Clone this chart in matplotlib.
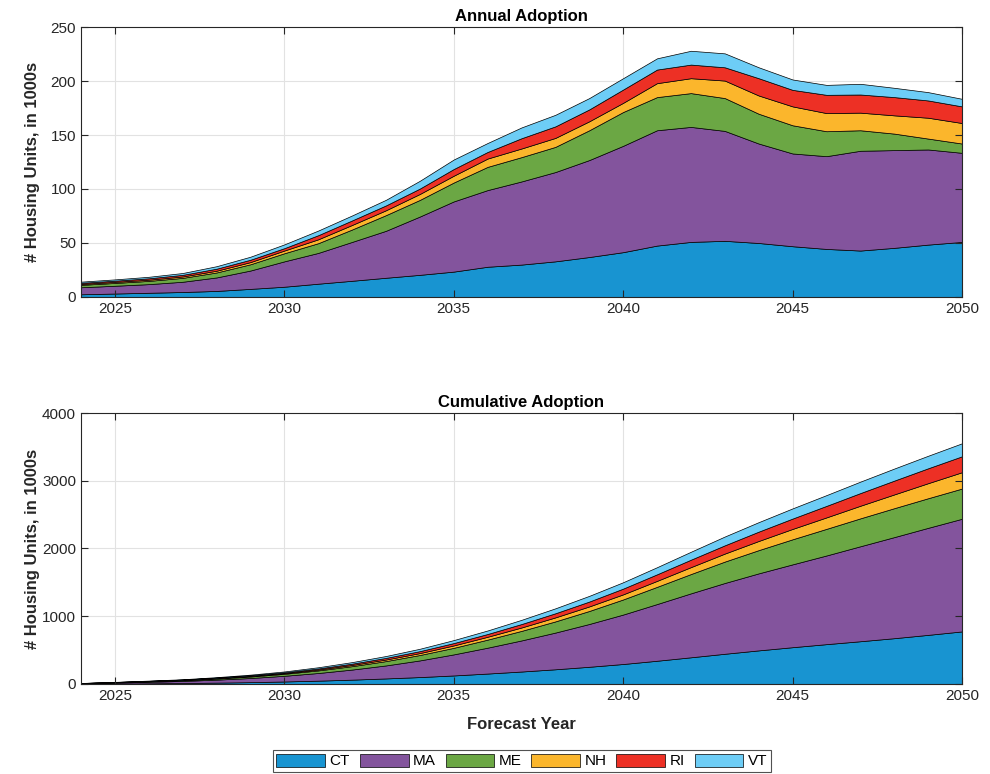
import matplotlib
matplotlib.use("Agg")
import matplotlib.pyplot as plt

plt.rcParams['font.family'] = ['Liberation Sans', 'DejaVu Sans']

years = list(range(2024, 2051))
states = ["CT", "MA", "ME", "NH", "RI", "VT"]
colors = ["#1894d1", "#83549d", "#6ba744", "#fbb62c", "#ed3025", "#6dcdf6"]

# Annual adoption, thousands of housing units
annual_ct = [2.5, 3.2, 3.9, 4.6, 5.6, 7.5, 9.5, 12.3, 15.0, 17.8, 20.5, 23.5, 28.0, 30.0,
             33.0, 37.0, 41.5, 47.6, 51.0, 52.0, 50.0, 47.0, 44.5, 43.0, 45.5, 48.5, 51.0]
annual_ma = [6.5, 7.2, 8.0, 9.5, 12.5, 17.0, 23.5, 28.5, 36.0, 43.5, 54.0, 65.0, 71.0, 77.0,
             82.7, 89.8, 98.5, 106.8, 106.5, 101.8, 92.1, 85.9, 85.9, 92.4, 90.5, 88.1, 82.5]
annual_me = [2.2, 2.6, 3.0, 3.6, 4.6, 5.8, 7.5, 9.0, 11.5, 14.5, 15.4, 17.5, 21.5, 22.5,
             23.3, 27.6, 31.3, 30.7, 31.3, 30.4, 27.6, 26.1, 23.1, 19.0, 15.3, 10.1, 8.6]
annual_nh = [0.9, 1.0, 1.1, 1.3, 1.6, 2.0, 2.5, 3.6, 4.2, 4.5, 5.5, 6.3, 7.7, 8.0,
             8.3, 8.3, 8.5, 12.9, 13.8, 16.2, 16.9, 17.5, 16.8, 16.3, 16.9, 19.3, 19.0]
annual_ri = [1.0, 1.1, 1.3, 1.5, 1.9, 2.2, 2.2, 3.8, 4.2, 4.5, 5.0, 6.2, 6.1, 9.5,
             10.7, 11.0, 12.3, 12.6, 12.6, 12.3, 16.0, 15.3, 16.9, 16.8, 16.9, 16.0, 15.4]
annual_vt = [1.1, 1.2, 1.4, 1.7, 2.3, 2.8, 3.5, 4.3, 4.6, 5.2, 7.2, 8.8, 8.3, 10.0,
             10.7, 10.5, 10.5, 10.4, 12.8, 12.9, 10.1, 9.6, 9.2, 9.9, 8.6, 7.7, 7.0]

# Cumulative adoption, thousands of housing units
cum_ct = [3, 6, 10, 14, 20, 27, 37, 49, 64, 82, 102, 126, 154, 184,
          217, 254, 295, 343, 394, 446, 496, 543, 588, 631, 676, 725, 776]
cum_ma = [7, 14, 22, 31, 44, 61, 84, 113, 149, 192, 246, 311, 382, 459,
          542, 632, 730, 837, 944, 1045, 1137, 1223, 1309, 1402, 1492, 1580, 1663]
cum_me = [2, 5, 8, 11, 16, 22, 29, 38, 50, 64, 80, 97, 119, 141,
          165, 192, 223, 254, 285, 316, 343, 370, 393, 412, 427, 437, 446]
cum_nh = [1, 2, 3, 4, 6, 8, 10, 14, 18, 23, 28, 35, 42, 50,
          59, 67, 75, 88, 102, 118, 135, 153, 169, 186, 203, 222, 241]
cum_ri = [1, 2, 3, 5, 7, 9, 11, 15, 19, 24, 29, 35, 41, 51,
          61, 72, 85, 97, 110, 122, 138, 153, 170, 187, 204, 220, 235]
cum_vt = [1, 2, 4, 5, 8, 11, 14, 18, 23, 28, 35, 44, 52, 62,
          73, 84, 94, 105, 117, 130, 140, 150, 159, 169, 178, 185, 192]

xticks = list(range(2025, 2051, 5))

fig = plt.figure(figsize=(9.9, 7.74), dpi=100)
ax1 = fig.add_axes([0.0818, 0.6163, 0.8899, 0.3488])
ax2 = fig.add_axes([0.0818, 0.1163, 0.8899, 0.3501])

annual = [annual_ct, annual_ma, annual_me, annual_nh, annual_ri, annual_vt]
cumulative = [cum_ct, cum_ma, cum_me, cum_nh, cum_ri, cum_vt]

for ax, data, title, ymax, ystep in [
        (ax1, annual, "Annual Adoption", 250, 50),
        (ax2, cumulative, "Cumulative Adoption", 4000, 1000)]:
    yticks = list(range(0, ymax + 1, ystep))
    # grid drawn by hand so it stays behind the areas while ticks stay on top
    for xt in xticks:
        ax.axvline(xt, color="#e2e2e2", linewidth=0.8, zorder=0.5)
    for yt in yticks[1:-1]:
        ax.axhline(yt, color="#e2e2e2", linewidth=0.8, zorder=0.5)
    ax.stackplot(years, *data, labels=states, colors=colors,
                 edgecolor="black", linewidth=0.5, zorder=1)
    ax.set_xlim(2024, 2050)
    ax.set_ylim(0, ymax)
    ax.set_xticks(xticks)
    ax.set_yticks(yticks)
    ax.tick_params(direction="in", length=5, width=0.8, top=True, right=True,
                   labelsize=11, colors="#262626")
    for s in ax.spines.values():
        s.set_color("#262626")
        s.set_linewidth(0.8)
    ax.set_title(title, fontsize=12, fontweight="bold", pad=4)
    ax.set_ylabel("# Housing Units, in 1000s", fontsize=12, fontweight="bold",
                  color="#262626")
    ax.yaxis.set_label_coords(-0.046, 0.5)

ax2.set_xlabel("Forecast Year", fontsize=12, fontweight="bold", color="#262626", labelpad=10)

handles, labels = ax2.get_legend_handles_labels()
leg = fig.legend(handles, labels, loc="upper center", bbox_to_anchor=(0.527, 0.031),
                 borderaxespad=0, ncol=6, fontsize=11, frameon=True, fancybox=False,
                 handlelength=3.2, handleheight=0.9, handletextpad=0.27,
                 columnspacing=0.65, borderpad=0.25, edgecolor="#262626")
leg.get_frame().set_linewidth(0.8)

fig.savefig("out.png", dpi=100)
